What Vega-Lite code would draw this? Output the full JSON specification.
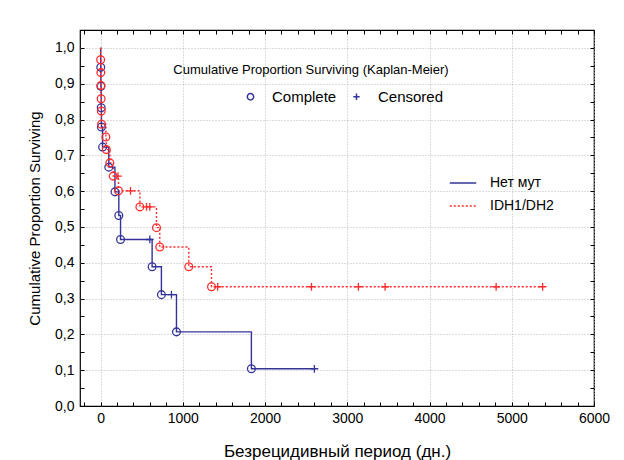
{
  "$schema": "https://vega.github.io/schema/vega-lite/v6.json",
  "width": 514,
  "height": 376,
  "autosize": {"type": "none"},
  "padding": {"left": 80, "top": 30, "right": 30, "bottom": 54},
  "background": "white",
  "title": {
    "text": "Cumulative Proportion Surviving (Kaplan-Meier)",
    "anchor": "middle",
    "frame": "group",
    "offset": -60,
    "dx": -26,
    "baseline": "bottom",
    "fontSize": 13,
    "fontWeight": "normal",
    "font": "Liberation Sans",
    "color": "black"
  },
  "config": {
    "view": {"stroke": "black", "strokeWidth": 1.2},
    "font": "Liberation Sans",
    "axis": {
      "labelFont": "Liberation Sans",
      "titleFont": "Liberation Sans",
      "labelColor": "black",
      "titleColor": "black",
      "labelFontSize": 14,
      "titleFontSize": 15,
      "titleFontWeight": "normal",
      "domainColor": "black",
      "tickColor": "black",
      "gridColor": "#b8b8b8",
      "gridDash": [1, 2],
      "gridWidth": 1,
      "labelFlush": false
    },
    "legend": {
      "labelFont": "Liberation Sans",
      "labelFontSize": 14,
      "labelColor": "black",
      "padding": 0
    }
  },
  "data": {
    "values": [
      {"group": "Нет мут", "time": 0, "surv": 1.0, "type": "start"},
      {"group": "Нет мут", "time": 2, "surv": 0.946, "type": "Complete"},
      {"group": "Нет мут", "time": 4, "surv": 0.893, "type": "Complete"},
      {"group": "Нет мут", "time": 8, "surv": 0.833, "type": "Complete"},
      {"group": "Нет мут", "time": 10, "surv": 0.779, "type": "Complete"},
      {"group": "Нет мут", "time": 25, "surv": 0.723, "type": "Complete"},
      {"group": "Нет мут", "time": 100, "surv": 0.667, "type": "Complete"},
      {"group": "Нет мут", "time": 175, "surv": 0.598, "type": "Complete"},
      {"group": "Нет мут", "time": 222, "surv": 0.532, "type": "Complete"},
      {"group": "Нет мут", "time": 243, "surv": 0.465, "type": "Complete"},
      {"group": "Нет мут", "time": 599, "surv": 0.465, "type": "Censored"},
      {"group": "Нет мут", "time": 627, "surv": 0.389, "type": "Complete"},
      {"group": "Нет мут", "time": 740, "surv": 0.311, "type": "Complete"},
      {"group": "Нет мут", "time": 862, "surv": 0.311, "type": "Censored"},
      {"group": "Нет мут", "time": 923, "surv": 0.207, "type": "Complete"},
      {"group": "Нет мут", "time": 1834, "surv": 0.104, "type": "Complete"},
      {"group": "Нет мут", "time": 2600, "surv": 0.104, "type": "Censored"},
      {"group": "IDH1/DH2", "time": 0, "surv": 1.0, "type": "start"},
      {"group": "IDH1/DH2", "time": 1, "surv": 0.967, "type": "Complete"},
      {"group": "IDH1/DH2", "time": 3, "surv": 0.931, "type": "Complete"},
      {"group": "IDH1/DH2", "time": 5, "surv": 0.895, "type": "Complete"},
      {"group": "IDH1/DH2", "time": 7, "surv": 0.858, "type": "Complete"},
      {"group": "IDH1/DH2", "time": 9, "surv": 0.824, "type": "Complete"},
      {"group": "IDH1/DH2", "time": 12, "surv": 0.787, "type": "Complete"},
      {"group": "IDH1/DH2", "time": 65, "surv": 0.751, "type": "Complete"},
      {"group": "IDH1/DH2", "time": 70, "surv": 0.716, "type": "Complete"},
      {"group": "IDH1/DH2", "time": 113, "surv": 0.679, "type": "Complete"},
      {"group": "IDH1/DH2", "time": 154, "surv": 0.642, "type": "Complete"},
      {"group": "IDH1/DH2", "time": 212, "surv": 0.642, "type": "Censored"},
      {"group": "IDH1/DH2", "time": 218, "surv": 0.601, "type": "Complete"},
      {"group": "IDH1/DH2", "time": 364, "surv": 0.601, "type": "Censored"},
      {"group": "IDH1/DH2", "time": 478, "surv": 0.556, "type": "Complete"},
      {"group": "IDH1/DH2", "time": 559, "surv": 0.556, "type": "Censored"},
      {"group": "IDH1/DH2", "time": 599, "surv": 0.556, "type": "Censored"},
      {"group": "IDH1/DH2", "time": 680, "surv": 0.498, "type": "Complete"},
      {"group": "IDH1/DH2", "time": 720, "surv": 0.444, "type": "Complete"},
      {"group": "IDH1/DH2", "time": 1073, "surv": 0.389, "type": "Complete"},
      {"group": "IDH1/DH2", "time": 1349, "surv": 0.333, "type": "Complete"},
      {"group": "IDH1/DH2", "time": 1424, "surv": 0.333, "type": "Censored"},
      {"group": "IDH1/DH2", "time": 2565, "surv": 0.333, "type": "Censored"},
      {"group": "IDH1/DH2", "time": 3135, "surv": 0.333, "type": "Censored"},
      {"group": "IDH1/DH2", "time": 3460, "surv": 0.333, "type": "Censored"},
      {"group": "IDH1/DH2", "time": 4810, "surv": 0.333, "type": "Censored"},
      {"group": "IDH1/DH2", "time": 5375, "surv": 0.333, "type": "Censored"}
    ]
  },
  "resolve": {"axis": {"x": "independent", "y": "independent"}},
  "layer": [
    {
      "mark": {"type": "line", "interpolate": "step-after", "strokeWidth": 1.4},
      "encoding": {
        "x": {
          "field": "time", "type": "quantitative",
          "scale": {"domain": [-250, 6000], "nice": false, "zero": false},
          "axis": {
            "orient": "bottom",
            "title": "Безрецидивный период (дн.)",
            "titleFontSize": 17,
            "values": [-200, 0, 200, 400, 600, 800, 1000, 1200, 1400, 1600, 1800, 2000, 2200, 2400, 2600, 2800, 3000, 3200, 3400, 3600, 3800, 4000, 4200, 4400, 4600, 4800, 5000, 5200, 5400, 5600, 5800, 6000],
            "labelExpr": "datum.value % 1000 === 0 ? format(datum.value, 'd') : ''",
            "tickSize": -4,
            "labelPadding": 9,
            "titlePadding": 18,
            "domain": false,
            "gridOpacity": {"condition": {"test": "datum.value % 1000 === 0", "value": 1}, "value": 0}
          }
        },
        "y": {
          "field": "surv", "type": "quantitative",
          "scale": {"domain": [0, 1.05], "nice": false},
          "axis": {
            "orient": "left",
            "title": "Cumulative Proportion Surviving",
            "values": [0, 0.05, 0.1, 0.15, 0.2, 0.25, 0.3, 0.35, 0.4, 0.45, 0.5, 0.55, 0.6, 0.65, 0.7, 0.75, 0.8, 0.85, 0.9, 0.95, 1.0],
            "labelExpr": "abs(datum.value * 10 - round(datum.value * 10)) < 0.001 ? replace(format(datum.value, '.1f'), '.', ',') : ''",
            "tickSize": -4,
            "labelPadding": 10,
            "titlePadding": 12,
            "domain": false,
            "gridOpacity": {"condition": {"test": "abs(datum.value * 10 - round(datum.value * 10)) < 0.001 && datum.value > 0", "value": 1}, "value": 0}
          }
        },
        "detail": {"field": "group"},
        "order": {"field": "time"},
        "color": {
          "field": "group", "type": "nominal",
          "scale": {"domain": ["Нет мут", "IDH1/DH2"], "range": ["#333399", "#ff2a2a"]},
          "legend": {
            "title": null,
            "orient": "none",
            "legendX": 369,
            "legendY": 139,
            "symbolType": "stroke",
            "symbolSize": 700,
            "symbolStrokeWidth": 1.4,
            "labelOffset": 13,
            "labelFontSize": 14
          }
        },
        "strokeDash": {
          "field": "group", "type": "nominal",
          "scale": {"domain": ["Нет мут", "IDH1/DH2"], "range": [[1, 0], [2, 2]]},
          "legend": {
            "title": null,
            "orient": "none",
            "legendX": 369,
            "legendY": 139,
            "symbolType": "stroke",
            "symbolSize": 700,
            "symbolStrokeWidth": 1.4,
            "labelOffset": 13,
            "labelFontSize": 14
          }
        }
      }
    },
    {
      "transform": [{"filter": "datum.type !== 'start'"}],
      "mark": {"type": "point", "filled": false, "strokeWidth": 1.3, "opacity": 1},
      "encoding": {
        "x": {
          "field": "time", "type": "quantitative",
          "axis": {
            "orient": "top",
            "title": null,
            "labels": false,
            "grid": false,
            "domain": false,
            "tickSize": -4,
            "values": [-200, 0, 200, 400, 600, 800, 1000, 1200, 1400, 1600, 1800, 2000, 2200, 2400, 2600, 2800, 3000, 3200, 3400, 3600, 3800, 4000, 4200, 4400, 4600, 4800, 5000, 5200, 5400, 5600, 5800, 6000]
          }
        },
        "y": {
          "field": "surv", "type": "quantitative",
          "axis": {
            "orient": "right",
            "title": null,
            "labels": false,
            "grid": false,
            "domain": false,
            "tickSize": -4,
            "values": [0, 0.05, 0.1, 0.15, 0.2, 0.25, 0.3, 0.35, 0.4, 0.45, 0.5, 0.55, 0.6, 0.65, 0.7, 0.75, 0.8, 0.85, 0.9, 0.95, 1.0]
          }
        },
        "stroke": {
          "field": "group", "type": "nominal",
          "scale": {"domain": ["Нет мут", "IDH1/DH2"], "range": ["#333399", "#ff2a2a"]},
          "legend": null
        },
        "shape": {
          "field": "type", "type": "nominal",
          "scale": {"domain": ["Complete", "Censored"], "range": ["circle", "M-1,0H1M0,-1V1"]},
          "legend": {
            "title": null,
            "orient": "none",
            "legendX": 163,
            "legendY": 59,
            "direction": "horizontal",
            "symbolSize": 40,
            "symbolStrokeColor": "#333399",
            "symbolFillColor": "transparent",
            "symbolStrokeWidth": 1.5,
            "labelOffset": 14,
            "labelFontSize": 15,
            "columnPadding": 12
          }
        },
        "size": {"value": 60}
      }
    }
  ]
}
